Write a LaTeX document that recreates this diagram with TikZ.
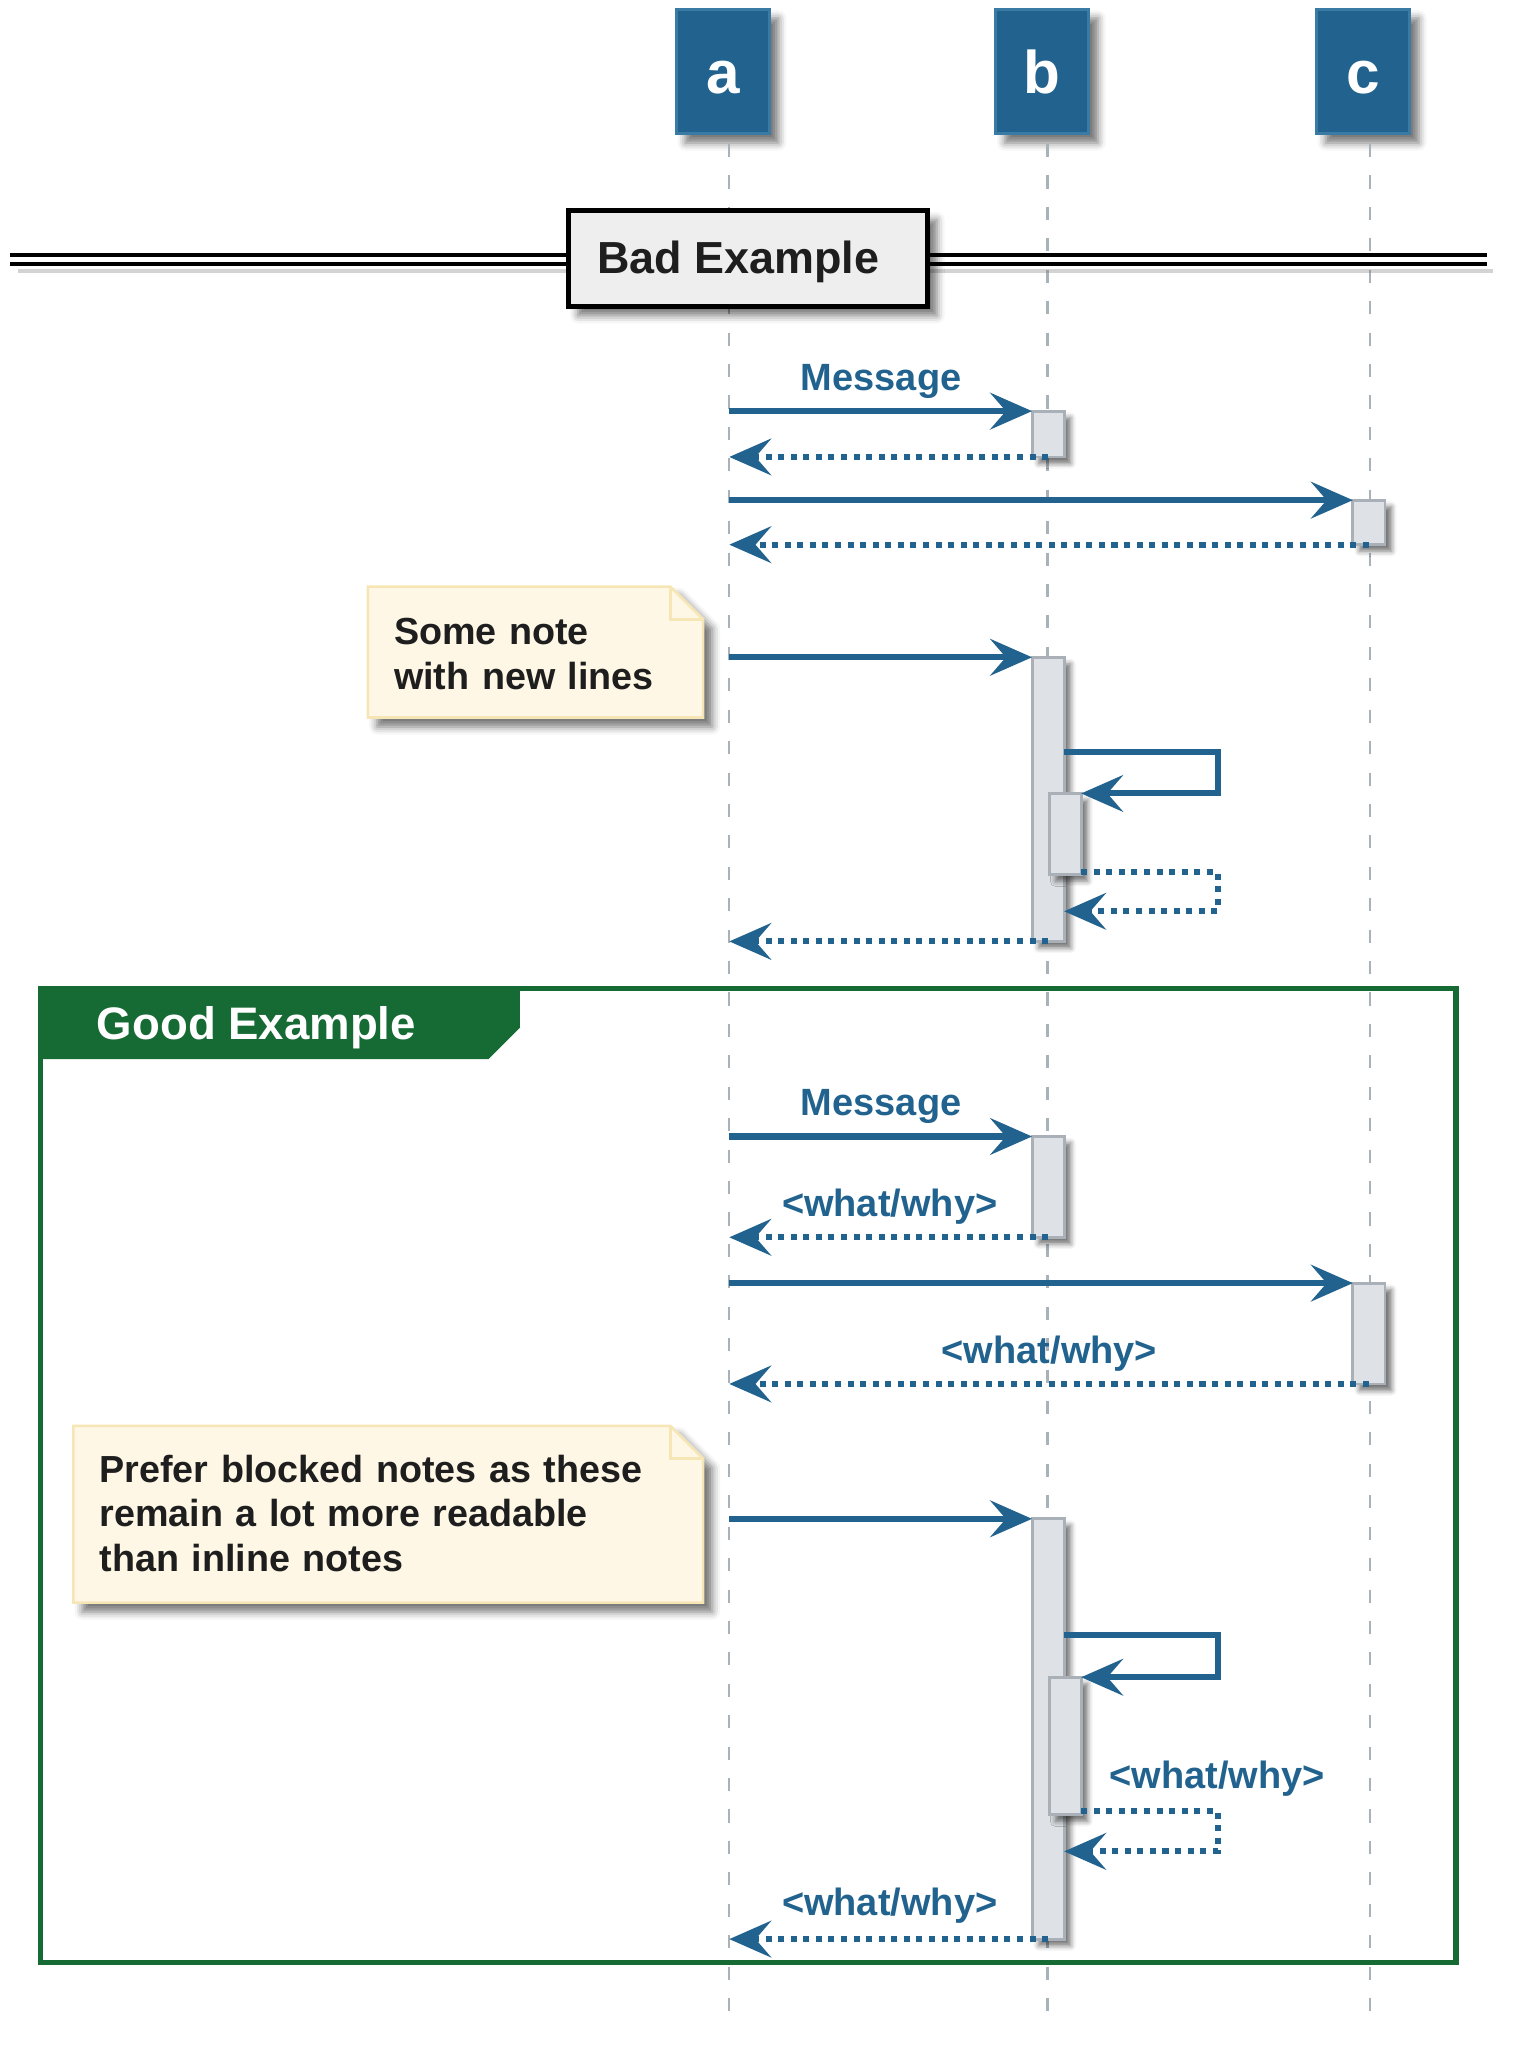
\documentclass[tikz,border=0pt]{standalone}
\usepackage{fontspec}
\setmainfont{Liberation Sans}
\usetikzlibrary{arrows.meta,shadows.blur}
\definecolor{partfill}{HTML}{21638E}
\definecolor{partline}{HTML}{3A7BA6}
\definecolor{arrowc}{HTML}{21638E}
\definecolor{lifec}{HTML}{A9B1B9}
\definecolor{actfill}{HTML}{DEE1E5}
\definecolor{actline}{HTML}{A9B0B8}
\definecolor{notefill}{HTML}{FEF7E5}
\definecolor{noteline}{HTML}{F6E6B5}
\definecolor{grpc}{HTML}{166A33}
\definecolor{divfill}{HTML}{EEEEEE}
\definecolor{txt}{HTML}{1E1E1E}
\begin{document}
\begin{tikzpicture}[x=1pt,y=-1pt,
  every node/.style={outer sep=0pt},
  bigshadow/.style={blur shadow={shadow xshift=7pt, shadow yshift=-7pt, shadow blur radius=6pt, shadow opacity=55}},
  smallshadow/.style={blur shadow={shadow xshift=5pt, shadow yshift=-5pt, shadow blur radius=4pt, shadow opacity=55}},
  part/.style={rectangle, fill=partfill, draw=partline, line width=2.2pt, minimum width=71pt, minimum height=95pt, inner sep=0pt, text=white, font=\bfseries\fontsize{46}{46}\selectfont, text height=33.5pt, text depth=0pt, bigshadow},
  lifeline/.style={draw=lifec, line width=1.6pt, dash pattern=on 10pt off 14pt},
  act/.style={rectangle, fill=actfill, draw=actline, line width=2.2pt, minimum width=24.5pt, inner sep=0pt, anchor=north, smallshadow},
  msg/.style={draw=arrowc, line width=4.6pt, -{Stealth[length=32pt, width=28pt, inset=12pt]}},
  ret/.style={msg, dash pattern=on 4.6pt off 5pt},
  lbl/.style={text=arrowc, font=\bfseries\fontsize{29}{34}\selectfont, inner sep=0pt, anchor=base},
  notetext/.style={text=txt, font=\bfseries\fontsize{28.8}{34}\selectfont, inner sep=0pt, anchor=base west, align=left},
  notebg/.style={fill=notefill, draw=noteline, line width=2pt, bigshadow},
  foldline/.style={draw=noteline, line width=2pt},
  divbox/.style={rectangle, fill=divfill, draw=black, line width=3.8pt, minimum width=274pt, minimum height=73pt, inner sep=0pt, bigshadow},
  divtext/.style={text=txt, font=\bfseries\fontsize{34.3}{34}\selectfont, inner sep=0pt, anchor=base west},
  dline/.style={draw=black, line width=2.8pt},
  grpframe/.style={rectangle, draw=grpc, line width=4pt, inner sep=0pt, anchor=north west},
  grptext/.style={text=white, font=\bfseries\fontsize{34.8}{34}\selectfont, inner sep=0pt, anchor=base west}
]
\useasboundingbox (0,0) rectangle (1163,1568);

% participants
\node[part] (pa) at (552,54.5) {a};
\node[part] (pb) at (796,54.5) {b};
\node[part] (pc) at (1041,54.5) {c};

% lifelines
\coordinate (aBot) at (557,1541);
\coordinate (bBot) at (800,1541);
\coordinate (cBot) at (1046,1541);
\draw[lifeline] ([xshift=5pt,yshift=-8pt]pa.south) -- (aBot);
\draw[lifeline] ([xshift=4pt,yshift=-8pt]pb.south) -- (bBot);
\draw[lifeline] ([xshift=5pt,yshift=-8pt]pc.south) -- (cBot);

% ---------- Bad Example divider ----------
\coordinate (dl1) at (8,195);  \coordinate (dr1) at (1136,195);
\coordinate (dl2) at (8,201.5);  \coordinate (dr2) at (1136,201.5);
\coordinate (dsl) at (14,207);   \coordinate (dsr) at (1140,207);
\draw[gray, line width=3.5pt, opacity=0.35] (dsl) -- (dsr);
\draw[dline] (dl1) -- (dr1);
\draw[dline] (dl2) -- (dr2);
\node[divbox] (div) at (571.5,197.5) {};
\node[divtext] (divt) at (456,209) {Bad Example};

% ---------- Bad section ----------
\node[act, minimum height=35pt] (actB1) at (800.5,314) {};
\coordinate (a1) at (557,314);
\draw[msg] (a1) -- (actB1.north west);
\node[lbl] (l1) at (673,298) {Message};
\coordinate (a2) at (557,349);
\draw[ret] (actB1.south) -- (a2);

\node[act, minimum height=34pt] (actC1) at (1045.5,382) {};
\coordinate (a3) at (557,382);
\draw[msg] (a3) -- (actC1.north west);
\coordinate (a4) at (557,416);
\draw[ret] (actC1.south) -- (a4);

% note 1
\path[notebg] (281,448) -- (512,448) -- (537,473) -- (537,548) -- (281,548) -- cycle;
\draw[foldline] (512,448) -- (512,473) -- (537,473);
\node[notetext, text width=230pt] (n1) at (301,492.5) {Some note\\with new lines};

\node[act, minimum height=217pt] (actB2) at (800.5,502) {};
\coordinate (a5) at (557,502);
\draw[msg] (a5) -- (actB2.north west);
\node[act, minimum height=62pt] (actB3) at (813.5,606) {};
\coordinate (s1) at (930,574);
\draw[msg] (actB2.east |- s1) -- (s1) |- (actB3.north east);
\coordinate (s2) at (930,666);
\coordinate (s3) at (930,696);
\draw[ret] ([yshift=2pt]actB3.south east) -- (s2) |- (actB2.east |- s3);
\coordinate (a8) at (557,719);
\draw[ret] (actB2.south) -- (a8);

% ---------- Good Example group ----------
\node[grpframe, minimum width=1081pt, minimum height=744pt] (grp) at (31,755) {};
\fill[grpc] (grp.north west) -- ++(366,0) -- ++(0,30) -- ++(-24,24) -- ++(-342,0) -- cycle;
\node[grptext] (grpt) at (74,794) {Good Example};

\node[act, minimum height=77pt] (actB4) at (800.5,868) {};
\coordinate (g1) at (557,868);
\draw[msg] (g1) -- (actB4.north west);
\node[lbl] (l2) at (673,852) {Message};
\coordinate (g2) at (557,945);
\draw[ret] (actB4.south) -- (g2);
\node[lbl] (l3) at (679.5,929) {<what/why>};

\node[act, minimum height=77pt] (actC2) at (1045.5,980) {};
\coordinate (g3) at (557,980);
\draw[msg] (g3) -- (actC2.north west);
\coordinate (g4) at (557,1057);
\draw[ret] (actC2.south) -- (g4);
\node[lbl] (l4) at (801.5,1041) {<what/why>};

% note 2
\path[notebg] (56,1089) -- (512,1089) -- (537,1114) -- (537,1224) -- (56,1224) -- cycle;
\draw[foldline] (512,1089) -- (512,1114) -- (537,1114);
\node[notetext, text width=440pt] (n2) at (76,1132) {Prefer blocked notes as these\\remain a lot more readable\\than inline notes};

\node[act, minimum height=321pt] (actB5) at (800.5,1160) {};
\coordinate (g5) at (557,1160);
\draw[msg] (g5) -- (actB5.north west);
\node[act, minimum height=105pt] (actB6) at (813.5,1281) {};
\coordinate (gs1) at (930,1249);
\draw[msg] (actB5.east |- gs1) -- (gs1) |- (actB6.north east);
\coordinate (gs2) at (930,1383);
\coordinate (gs3) at (930,1414);
\draw[ret] ([yshift=3pt]actB6.south east) -- (gs2) |- (actB5.east |- gs3);
\node[lbl] (l5) at (929.5,1366) {<what/why>};
\coordinate (g9) at (557,1481);
\draw[ret] (actB5.south) -- (g9);
\node[lbl] (l6) at (679.5,1463) {<what/why>};
\end{tikzpicture}
\end{document}
